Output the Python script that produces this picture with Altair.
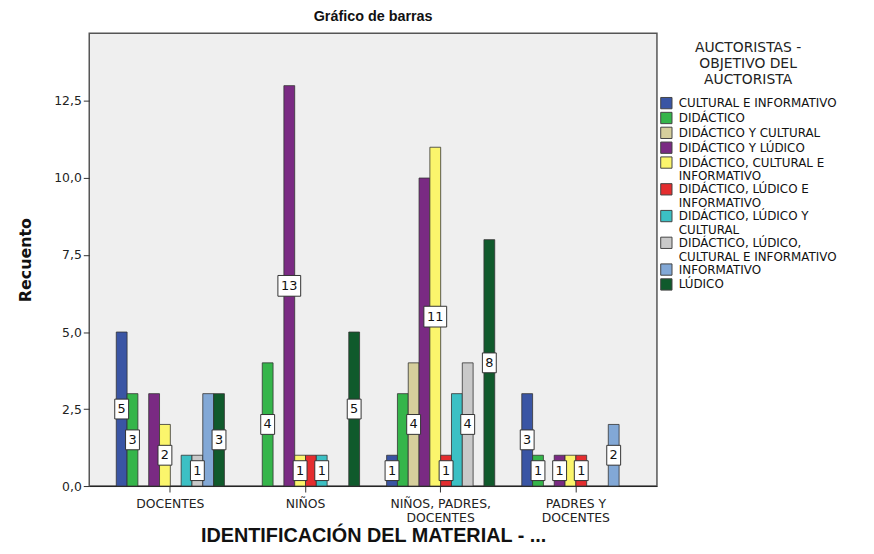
import altair as alt
import pandas as pd

groups = ["DOCENTES", "NIÑOS", "NIÑOS, PADRES, DOCENTES", "PADRES Y DOCENTES"]
series = [
    "CULTURAL E INFORMATIVO",
    "DIDÁCTICO",
    "DIDÁCTICO Y CULTURAL",
    "DIDÁCTICO Y LÚDICO",
    "DIDÁCTICO, CULTURAL E INFORMATIVO",
    "DIDÁCTICO, LÚDICO E INFORMATIVO",
    "DIDÁCTICO, LÚDICO Y CULTURAL",
    "DIDÁCTICO, LÚDICO, CULTURAL E INFORMATIVO",
    "INFORMATIVO",
    "LÚDICO",
]
colors = ["#3a55a4", "#35b54a", "#d6cf9c", "#7a2a83", "#fbf56c",
          "#e42d2f", "#3cc0c4", "#c9c9c9", "#82a8d6", "#105a2c"]

counts_docentes = [5, 3, 0, 3, 2, 0, 1, 1, 3, 3]
counts_ninos = [0, 4, 0, 13, 1, 1, 1, 0, 0, 5]
counts_npd = [1, 3, 4, 10, 11, 1, 3, 4, 0, 8]
counts_pyd = [3, 1, 0, 1, 1, 1, 0, 0, 2, 0]

labels_docentes = [1, 1, 0, 0, 1, 0, 0, 1, 0, 1]
labels_ninos = [0, 1, 0, 1, 1, 0, 1, 0, 0, 1]
labels_npd = [1, 0, 1, 0, 1, 1, 0, 1, 0, 1]
labels_pyd = [1, 1, 0, 1, 0, 1, 0, 0, 1, 0]

y_ticks = [0, 2.5, 5, 7.5, 10, 12.5]

rows = []
for g, cs, ls in zip(groups,
                     [counts_docentes, counts_ninos, counts_npd, counts_pyd],
                     [labels_docentes, labels_ninos, labels_npd, labels_pyd]):
    for s, c, l in zip(series, cs, ls):
        if c > 0:
            rows.append({"grupo": g, "serie": s, "recuento": c, "mitad": c / 2, "etiqueta": l})
df = pd.DataFrame(rows)

x_label_expr = ("datum.label == 'NIÑOS, PADRES, DOCENTES' ? ['NIÑOS, PADRES,', 'DOCENTES'] : "
                "datum.label == 'PADRES Y DOCENTES' ? ['PADRES Y', 'DOCENTES'] : datum.label")
legend_label_expr = (
    "datum.label == 'DIDÁCTICO, CULTURAL E INFORMATIVO' ? ['DIDÁCTICO, CULTURAL E', 'INFORMATIVO'] : "
    "datum.label == 'DIDÁCTICO, LÚDICO E INFORMATIVO' ? ['DIDÁCTICO, LÚDICO E', 'INFORMATIVO'] : "
    "datum.label == 'DIDÁCTICO, LÚDICO Y CULTURAL' ? ['DIDÁCTICO, LÚDICO Y', 'CULTURAL'] : "
    "datum.label == 'DIDÁCTICO, LÚDICO, CULTURAL E INFORMATIVO' ? ['DIDÁCTICO, LÚDICO,', 'CULTURAL E INFORMATIVO'] : "
    "datum.label"
)

FONT = "DejaVu Sans"
BOLD = "Liberation Sans"

x_enc = alt.X("grupo:N", sort=groups,
              scale=alt.Scale(paddingInner=0.2, paddingOuter=0.2),
              axis=alt.Axis(title="IDENTIFICACIÓN DEL MATERIAL - ...", labelAngle=0,
                            labelExpr=x_label_expr, labelFontSize=12.5, labelColor="#222",
                            labelFont=FONT, labelLineHeight=14, labelPadding=6,
                            titleFont=BOLD, titleFontSize=20, titleFontWeight="bold",
                            titleColor="#111", titlePadding=1, tickSize=6,
                            tickColor="#333", domainColor="#222", labelBaseline="top"))
xo_enc = alt.XOffset("serie:N", sort=series, scale=alt.Scale(paddingInner=0, paddingOuter=0))
y_scale = alt.Scale(domain=[0, 14.7], nice=False)

bars = alt.Chart(df).mark_bar(stroke="#333333", strokeWidth=1, strokeOpacity=0.8).encode(
    x=x_enc,
    xOffset=xo_enc,
    y=alt.Y("recuento:Q", scale=y_scale,
            axis=alt.Axis(title="Recuento", values=y_ticks,
                          labelExpr="replace(format(datum.value, '.1f'), '.', ',')",
                          labelFont=FONT, labelFontSize=12.5, labelColor="#222",
                          titleFont=FONT, titleFontSize=16, titleFontWeight="bold",
                          titleColor="#111", titlePadding=20, grid=False, tickSize=6,
                          tickColor="#333", domain=False)),
    color=alt.Color("serie:N", sort=series,
                    scale=alt.Scale(domain=series, range=colors),
                    legend=alt.Legend(title=["AUCTORISTAS -", "OBJETIVO DEL", "AUCTORISTA"],
                                      orient="none", legendX=576, legendY=8,
                                      titleAlign="center", titleAnchor="middle",
                                      titleFont=FONT, titleFontSize=14, titleFontWeight="normal",
                                      titleColor="#222", titleLineHeight=16, titlePadding=10,
                                      labelExpr=legend_label_expr, labelFont=FONT,
                                      labelFontSize=12, labelColor="#111",
                                      labelLimit=300,
                                      symbolType="square", symbolSize=130,
                                      symbolStrokeColor="#444", symbolStrokeWidth=1,
                                      symbolOpacity=1, rowPadding=-2, labelOffset=6)),
)

lab = df[df["etiqueta"] == 1]

box_path_1 = "M-1,-1.43L1,-1.43L1,1.43L-1,1.43Z"
box_path_2 = "M-1,-0.91L1,-0.91L1,0.91L-1,0.91Z"

boxes1 = alt.Chart(lab).transform_filter("datum.recuento < 10").mark_point(
    shape=box_path_1, filled=True, fill="white", stroke="#333", strokeWidth=1,
    opacity=1, size=196).encode(
    x=x_enc, xOffset=xo_enc, y=alt.Y("mitad:Q", scale=y_scale))
boxes2 = alt.Chart(lab).transform_filter("datum.recuento >= 10").mark_point(
    shape=box_path_2, filled=True, fill="white", stroke="#333", strokeWidth=1,
    opacity=1, size=529).encode(
    x=x_enc, xOffset=xo_enc, y=alt.Y("mitad:Q", scale=y_scale))
texts = alt.Chart(lab).mark_text(font=FONT, fontSize=13, color="#111",
                                 baseline="middle", align="center").encode(
    x=x_enc, xOffset=xo_enc, y=alt.Y("mitad:Q", scale=y_scale),
    text=alt.Text("recuento:Q"))

chart = alt.layer(bars, boxes1, boxes2, texts).properties(
    width=573, height=457,
    title=alt.TitleParams("Gráfico de barras", font=BOLD, fontSize=14.5, fontWeight="bold",
                          color="#111", anchor="middle", offset=9),
    autosize=alt.AutoSizeParams(type="none"),
    padding={"left": 82, "top": 23, "right": 211, "bottom": 58},
).configure(background="white").configure_view(
    fill="#efefef", stroke="#555555", strokeWidth=1.5)

chart.save("out.html", embed_options={"renderer": "svg", "actions": False})
